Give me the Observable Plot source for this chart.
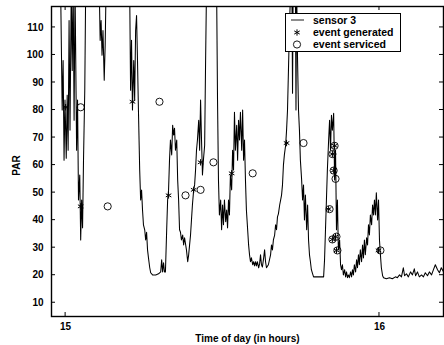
<!DOCTYPE html>
<html>
<head>
<meta charset="utf-8">
<script src="https://cdn.jsdelivr.net/npm/d3@7"></script>
<script src="https://cdn.jsdelivr.net/npm/@observablehq/plot@0.6"></script>
<style>
  html, body { margin: 0; padding: 0; background: #fff; }
  #chart { width: 444px; height: 345px; }
</style>
</head>
<body>
<div id="chart"></div>
<script>
// ---- data (time of day in hours, PAR) ----
const sensorHour = [
  14.984, 14.989, 14.992, 14.995, 14.998, 15.002, 15.005, 15.008, 15.011, 15.014,
  15.018, 15.021, 15.024, 15.027, 15.030, 15.035, 15.038, 15.041, 15.045, 15.048,
  15.051, 15.054, 15.057, 15.061, 15.064,
  15.107, 15.110, 15.113, 15.116, 15.119, 15.123, 15.126, 15.129,
  15.204, 15.207, 15.210, 15.213, 15.217, 15.220, 15.223, 15.226, 15.229, 15.232,
  15.236, 15.239, 15.242, 15.245, 15.248, 15.252, 15.255, 15.258, 15.261, 15.264,
  15.268, 15.271, 15.277, 15.287, 15.296, 15.303, 15.306, 15.309, 15.312, 15.315, 15.318,
  15.322, 15.325, 15.328, 15.331, 15.334, 15.338, 15.341, 15.344, 15.347, 15.350,
  15.354, 15.357, 15.360, 15.363, 15.366, 15.369, 15.373, 15.376, 15.379, 15.385,
  15.389, 15.392, 15.395, 15.398, 15.401, 15.404, 15.408, 15.411, 15.414, 15.417,
  15.420, 15.424, 15.427, 15.430, 15.433, 15.436, 15.439, 15.443, 15.446, 15.449,
  15.481, 15.484, 15.487, 15.490, 15.494, 15.497, 15.500, 15.503, 15.506, 15.510,
  15.513, 15.516, 15.519, 15.522, 15.525, 15.529, 15.532, 15.535, 15.538, 15.541,
  15.545, 15.548, 15.551, 15.554, 15.557, 15.561, 15.564, 15.567, 15.570, 15.573,
  15.576, 15.580, 15.583, 15.586, 15.589, 15.592, 15.596, 15.599, 15.602, 15.605,
  15.608, 15.611, 15.615, 15.618, 15.621, 15.624, 15.627, 15.631, 15.634, 15.637,
  15.640, 15.646, 15.653, 15.656, 15.659, 15.662, 15.666, 15.669, 15.672, 15.675,
  15.678, 15.682, 15.685, 15.688, 15.691, 15.694, 15.697, 15.701, 15.704, 15.707,
  15.710, 15.713, 15.717,
  15.721, 15.723, 15.725, 15.732, 15.734, 15.736, 15.739, 15.742, 15.745, 15.748,
  15.752, 15.755, 15.758, 15.761, 15.764, 15.768, 15.771, 15.774, 15.777, 15.780,
  15.783, 15.787, 15.790, 15.806, 15.822,
  15.825, 15.828, 15.831, 15.834, 15.838, 15.841, 15.844, 15.847, 15.850, 15.854,
  15.857, 15.860, 15.863, 15.866, 15.869, 15.873, 15.876, 15.879, 15.882, 15.885,
  15.889, 15.892, 15.895, 15.898, 15.901, 15.904, 15.908, 15.911, 15.914, 15.917,
  15.920, 15.924, 15.927, 15.930, 15.933, 15.936, 15.939, 15.943, 15.946, 15.949,
  15.952, 15.955, 15.959, 15.962, 15.965, 15.968, 15.971, 15.975, 15.978, 15.981,
  15.984, 15.987, 15.990, 15.994, 15.997, 16.000, 16.003, 16.006, 16.010, 16.013,
  16.022, 16.032, 16.041, 16.051, 16.057, 16.064, 16.070, 16.076, 16.080, 16.086,
  16.092, 16.099, 16.105, 16.111, 16.115, 16.121, 16.127, 16.134, 16.140, 16.146,
  16.153, 16.159, 16.166, 16.172, 16.178, 16.185, 16.191, 16.197, 16.204
];
const sensorPAR = [
  125, 80, 98, 61.8, 83.6, 62.5, 85.4, 65.4, 112.5, 72.7,
  125, 94.4, 125, 76.3, 125, 65.4, 83.6, 47.3, 56.4, 32.8,
  47.3, 37.2, 61.8, 87.2, 125,
  125, 105.3, 112.5, 99.9, 108.9, 90.8, 103.5, 125,
  125, 87.2, 105.3, 80, 98, 83.6, 108.9, 114.3, 98, 80,
  58.2, 47.3, 50.9, 43.7, 38.3, 36.5, 32.8, 35.6, 29.2, 26.3,
  22.7, 20.9, 20.1, 20.1, 20.5, 21.2, 25.6, 21.2, 24.5, 21.2, 21.2,
  36.5, 47.3, 50.9, 61.8, 69.1, 63.7, 74.5, 70.9, 73.4, 65.4,
  69.1, 54.6, 47.3, 36.5, 35.6, 32.8, 34.6, 31, 33.6, 29.2,
  24.9, 27.4, 31, 34.6, 40.1, 45.5, 51, 52.8, 58.2, 65.4,
  69.1, 76.3, 65.4, 83.6, 69.1, 56.4, 61.8, 67.2, 98, 125,
  125, 83.6, 54.6, 41.9, 47.3, 36.5, 45.5, 38.3, 47.3, 39.4,
  43.7, 37.2, 47.3, 41.9, 56.4, 51, 65.4, 58.2, 79.2, 65.4,
  74.5, 61.8, 76.3, 69.1, 79.2, 65.4, 80, 61.8, 69.1, 54.6,
  43.7, 36.5, 31, 27.4, 24.9, 26.3, 23.8, 24.9, 23.4, 24.9,
  23.4, 24.9, 22.7, 24.1, 27.4, 23.8, 23, 26.3, 29.2, 24.9,
  22.7, 23.8, 27.4, 31, 29.2, 32.8, 34.6, 38.3, 36.5, 41.2,
  42.3, 45.5, 47.3, 49.1, 52.8, 60, 63.7, 67.2, 72.7, 80,
  94.4, 108.9, 125,
  125, 86.1, 125, 125, 80, 125, 98, 80, 72.7, 61.8,
  54.6, 47.3, 52.8, 40.1, 49.1, 36.5, 45.5, 32.8, 27.4, 24.9,
  22, 20.5, 19.4, 19.4, 19.4,
  25.6, 36.5, 47.3, 58.2, 69.1, 76.3, 65.4, 78.1, 72.7, 78.8,
  54.6, 65.4, 36.5, 47.3, 29.2, 32.8, 23.8, 22, 23.8, 20.1,
  22, 19.4, 21.2, 19.1, 20.1, 19.1, 21.2, 19.4, 22, 20.1,
  23.8, 21.2, 25.6, 22.7, 27.4, 23.8, 29.2, 24.9, 31, 26.3,
  32.8, 27.4, 33.6, 31, 38.3, 34.6, 41.9, 38.3, 45.5, 41.9,
  47.3, 41.9, 49.9, 40.1, 47.3, 32.8, 27.4, 22.7, 19.8, 19.1,
  18.7, 19.1, 18.7, 19.4, 19.1, 20.1, 19.4, 22.7, 19.8, 20.5,
  19.4, 21.2, 20.1, 22.3, 19.8, 21.2, 19.4, 20.1, 19.4, 20.9,
  19.8, 21.2, 20.1, 22, 23.8, 22, 20.9, 22.7, 21.2
];

const generatedHour = [15.000, 15.048, 15.213, 15.328, 15.408, 15.430, 15.529, 15.704,
  15.838, 15.850, 15.854, 15.857, 15.850, 15.860, 15.863, 15.997];
const generatedPAR  = [81, 45, 83, 49, 51, 61, 57, 68,
  44, 64, 58, 67, 33, 34, 29, 29];

const servicedHour = [15.048, 15.134, 15.299, 15.382, 15.430, 15.471, 15.596, 15.758,
  15.841, 15.850, 15.857, 15.854, 15.860, 15.850, 15.863, 15.866, 16.003];
const servicedPAR  = [81, 45, 83, 49, 51, 61, 57, 68,
  44, 64, 67, 58, 55, 33, 34, 29, 29];

const yTicks = [10, 20, 30, 40, 50, 60, 70, 80, 90, 100, 110];
const xTicks = [15, 16];
const legendLabels = ["sensor 3", "event generated", "event serviced"];

// ---- tables built from arrays ----
const sensor = sensorHour.map((t, i) => ({t, v: sensorPAR[i]}));
const generated = generatedHour.map((t, i) => ({t, v: generatedPAR[i]}));
const serviced = servicedHour.map((t, i) => ({t, v: servicedPAR[i]}));

const FONT = "'Liberation Sans', Arial, Helvetica, sans-serif";

const plot = Plot.plot({
  width: 444,
  height: 345,
  marginLeft: 51,
  marginRight: 1,
  marginTop: 6,
  marginBottom: 29,
  x: {domain: [14.955, 16.204]},
  y: {domain: [5, 117.6]},
  style: {fontFamily: FONT, fontSize: "10px", fontWeight: "bold", background: "#fff", color: "#000"},
  marks: [
    Plot.line(sensor, {x: "t", y: "v", stroke: "#000", strokeWidth: 1.05, clip: true}),
    Plot.dot(generated, {x: "t", y: "v", symbol: "asterisk", r: 3, stroke: "#000", strokeWidth: 1}),
    Plot.dot(serviced, {x: "t", y: "v", symbol: "circle", r: 3.6, stroke: "#000", fill: "none", strokeWidth: 0.9}),
    Plot.frame({stroke: "#000", strokeWidth: 1.4}),
    Plot.axisY({ticks: yTicks, tickSize: 0, tickPadding: 8, label: null, fontWeight: "bold"}),
    Plot.axisX({ticks: xTicks, tickSize: 0, tickPadding: 6, label: null, tickFormat: d => String(d), fontWeight: "bold"}),
    Plot.text(["Time of day (in hours)"], {text: d => d, frameAnchor: "bottom", dy: 25, fontWeight: "bold", fontSize: 10}),
    Plot.text(["PAR"], {text: d => d, frameAnchor: "left", textAnchor: "middle", dx: -35, dy: 4, rotate: -90, fontWeight: "bold", fontSize: 10})
  ]
});

document.getElementById("chart").appendChild(plot);

// ---- inward tick marks (MATLAB style), from the plot's scales ----
const sx = plot.scale("x"), sy = plot.scale("y");
const svg = d3.select(plot);
const [x0, x1] = sx.range, [y0, y1] = sy.range; // y0 bottom, y1 top
const tg = svg.append("g").attr("stroke", "#000").attr("stroke-width", 1);
for (const v of yTicks) {
  const y = sy.apply(v);
  tg.append("line").attr("x1", x0).attr("x2", x0 + 4).attr("y1", y).attr("y2", y);
  tg.append("line").attr("x1", x1).attr("x2", x1 - 4).attr("y1", y).attr("y2", y);
}
for (const v of xTicks) {
  const x = sx.apply(v);
  tg.append("line").attr("x1", x).attr("x2", x).attr("y1", y0).attr("y2", y0 - 4);
  tg.append("line").attr("x1", x).attr("x2", x).attr("y1", y1).attr("y2", y1 + 4);
}

// ---- legend box ----
const lg = svg.append("g").attr("font-family", FONT).attr("font-size", 10.5).attr("font-weight", "bold")
  .attr("text-anchor", "start");
lg.append("rect").attr("x", 285.5).attr("y", 13.5).attr("width", 115).attr("height", 38)
  .attr("fill", "#fff").attr("stroke", "#000").attr("stroke-width", 1);
const rowY = [20, 32.5, 44.5];
lg.append("line").attr("x1", 291).attr("x2", 304).attr("y1", rowY[0]).attr("y2", rowY[0])
  .attr("stroke", "#000").attr("stroke-width", 0.9);
lg.append("path").attr("d", d3.symbol(d3.symbolAsterisk, 28)()).attr("transform", `translate(297,${rowY[1]})`)
  .attr("stroke", "#000").attr("fill", "none");
lg.append("circle").attr("cx", 297).attr("cy", rowY[2]).attr("r", 3.6)
  .attr("stroke", "#000").attr("fill", "none").attr("stroke-width", 0.9);
legendLabels.forEach((s, i) => {
  lg.append("text").attr("x", 313).attr("y", rowY[i]).attr("dy", "0.35em")
    .attr("text-anchor", "start").attr("fill", "#000").text(s);
});
</script>
</body>
</html>
